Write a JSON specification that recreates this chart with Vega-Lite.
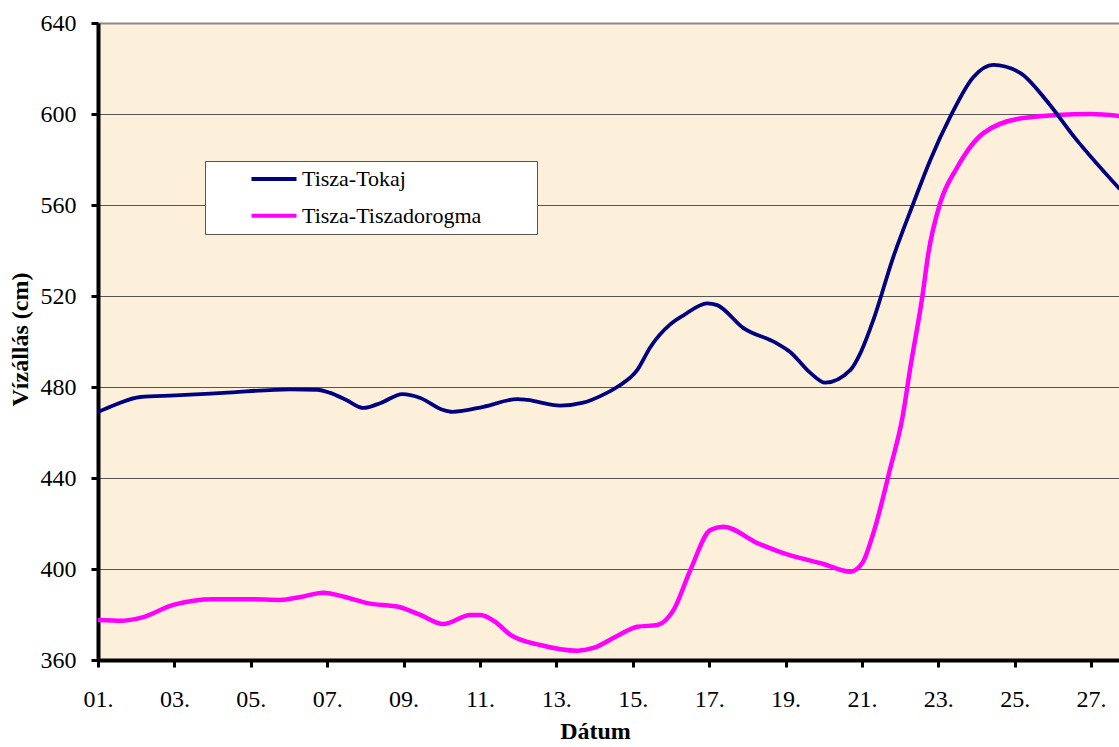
{
  "$schema": "https://vega.github.io/schema/vega-lite/v6.json",
  "width": 1021,
  "height": 637,
  "autosize": {"type": "none"},
  "padding": {"left": 98, "top": 23, "right": 0, "bottom": 87},
  "background": "white",
  "config": {
    "view": {"stroke": null, "fill": "#fcf0da"},
    "font": "Liberation Serif"
  },
  "data": {
    "values": [
      {"nap": 1.0, "allomas": "Tisza-Tokaj", "vizallas": 469},
      {"nap": 1.45, "allomas": "Tisza-Tokaj", "vizallas": 472.2},
      {"nap": 2.11, "allomas": "Tisza-Tokaj", "vizallas": 475.6},
      {"nap": 3.02, "allomas": "Tisza-Tokaj", "vizallas": 476.3},
      {"nap": 4.28, "allomas": "Tisza-Tokaj", "vizallas": 477.4},
      {"nap": 6.03, "allomas": "Tisza-Tokaj", "vizallas": 479},
      {"nap": 6.74, "allomas": "Tisza-Tokaj", "vizallas": 478.8},
      {"nap": 7.08, "allomas": "Tisza-Tokaj", "vizallas": 477.4},
      {"nap": 7.5, "allomas": "Tisza-Tokaj", "vizallas": 474.3},
      {"nap": 7.95, "allomas": "Tisza-Tokaj", "vizallas": 470.8},
      {"nap": 8.4, "allomas": "Tisza-Tokaj", "vizallas": 473},
      {"nap": 8.97, "allomas": "Tisza-Tokaj", "vizallas": 476.9},
      {"nap": 9.44, "allomas": "Tisza-Tokaj", "vizallas": 475.2},
      {"nap": 10.04, "allomas": "Tisza-Tokaj", "vizallas": 469.9},
      {"nap": 10.28, "allomas": "Tisza-Tokaj", "vizallas": 469.1},
      {"nap": 11.09, "allomas": "Tisza-Tokaj", "vizallas": 471.3},
      {"nap": 11.98, "allomas": "Tisza-Tokaj", "vizallas": 474.7},
      {"nap": 12.24, "allomas": "Tisza-Tokaj", "vizallas": 474.3},
      {"nap": 13.1, "allomas": "Tisza-Tokaj", "vizallas": 471.8},
      {"nap": 13.7, "allomas": "Tisza-Tokaj", "vizallas": 473.1},
      {"nap": 14.15, "allomas": "Tisza-Tokaj", "vizallas": 476},
      {"nap": 14.6, "allomas": "Tisza-Tokaj", "vizallas": 480.1},
      {"nap": 15.12, "allomas": "Tisza-Tokaj", "vizallas": 487.5},
      {"nap": 15.46, "allomas": "Tisza-Tokaj", "vizallas": 497.5},
      {"nap": 15.98, "allomas": "Tisza-Tokaj", "vizallas": 507.5},
      {"nap": 16.33, "allomas": "Tisza-Tokaj", "vizallas": 511.5},
      {"nap": 16.95, "allomas": "Tisza-Tokaj", "vizallas": 516.8},
      {"nap": 17.21, "allomas": "Tisza-Tokaj", "vizallas": 516},
      {"nap": 17.9, "allomas": "Tisza-Tokaj", "vizallas": 505.9},
      {"nap": 18.76, "allomas": "Tisza-Tokaj", "vizallas": 499.3},
      {"nap": 19.12, "allomas": "Tisza-Tokaj", "vizallas": 495.4},
      {"nap": 19.65, "allomas": "Tisza-Tokaj", "vizallas": 486.2},
      {"nap": 20.04, "allomas": "Tisza-Tokaj", "vizallas": 481.9},
      {"nap": 20.7, "allomas": "Tisza-Tokaj", "vizallas": 487.5},
      {"nap": 20.96, "allomas": "Tisza-Tokaj", "vizallas": 494.9},
      {"nap": 21.3, "allomas": "Tisza-Tokaj", "vizallas": 509.5},
      {"nap": 21.82, "allomas": "Tisza-Tokaj", "vizallas": 537.1},
      {"nap": 22.35, "allomas": "Tisza-Tokaj", "vizallas": 560.9},
      {"nap": 22.79, "allomas": "Tisza-Tokaj", "vizallas": 579.8},
      {"nap": 23.31, "allomas": "Tisza-Tokaj", "vizallas": 598.7},
      {"nap": 23.92, "allomas": "Tisza-Tokaj", "vizallas": 616.3},
      {"nap": 24.44, "allomas": "Tisza-Tokaj", "vizallas": 621.6},
      {"nap": 25.15, "allomas": "Tisza-Tokaj", "vizallas": 618},
      {"nap": 25.85, "allomas": "Tisza-Tokaj", "vizallas": 605.5},
      {"nap": 26.53, "allomas": "Tisza-Tokaj", "vizallas": 590.5},
      {"nap": 27.75, "allomas": "Tisza-Tokaj", "vizallas": 567},
      {"nap": 1.0, "allomas": "Tisza-Tiszadorogma", "vizallas": 377.6},
      {"nap": 1.66, "allomas": "Tisza-Tiszadorogma", "vizallas": 377.3},
      {"nap": 2.11, "allomas": "Tisza-Tiszadorogma", "vizallas": 378.5},
      {"nap": 2.97, "allomas": "Tisza-Tiszadorogma", "vizallas": 384.2},
      {"nap": 4.02, "allomas": "Tisza-Tiszadorogma", "vizallas": 386.7},
      {"nap": 4.99, "allomas": "Tisza-Tiszadorogma", "vizallas": 386.7},
      {"nap": 5.77, "allomas": "Tisza-Tiszadorogma", "vizallas": 386.4},
      {"nap": 6.3, "allomas": "Tisza-Tiszadorogma", "vizallas": 387.7},
      {"nap": 6.9, "allomas": "Tisza-Tiszadorogma", "vizallas": 389.6},
      {"nap": 7.47, "allomas": "Tisza-Tiszadorogma", "vizallas": 387.7},
      {"nap": 8.05, "allomas": "Tisza-Tiszadorogma", "vizallas": 385},
      {"nap": 8.91, "allomas": "Tisza-Tiszadorogma", "vizallas": 383.2},
      {"nap": 9.44, "allomas": "Tisza-Tiszadorogma", "vizallas": 379.8},
      {"nap": 10.04, "allomas": "Tisza-Tiszadorogma", "vizallas": 375.8},
      {"nap": 10.75, "allomas": "Tisza-Tiszadorogma", "vizallas": 379.8},
      {"nap": 11.01, "allomas": "Tisza-Tiszadorogma", "vizallas": 379.8},
      {"nap": 11.4, "allomas": "Tisza-Tiszadorogma", "vizallas": 376.8},
      {"nap": 11.8, "allomas": "Tisza-Tiszadorogma", "vizallas": 371},
      {"nap": 12.58, "allomas": "Tisza-Tiszadorogma", "vizallas": 366.6},
      {"nap": 13.55, "allomas": "Tisza-Tiszadorogma", "vizallas": 364.1},
      {"nap": 13.97, "allomas": "Tisza-Tiszadorogma", "vizallas": 365.3},
      {"nap": 14.55, "allomas": "Tisza-Tiszadorogma", "vizallas": 370.2},
      {"nap": 15.12, "allomas": "Tisza-Tiszadorogma", "vizallas": 374.6},
      {"nap": 15.65, "allomas": "Tisza-Tiszadorogma", "vizallas": 375.4},
      {"nap": 16.07, "allomas": "Tisza-Tiszadorogma", "vizallas": 382},
      {"nap": 16.51, "allomas": "Tisza-Tiszadorogma", "vizallas": 399.6},
      {"nap": 17.03, "allomas": "Tisza-Tiszadorogma", "vizallas": 417.1},
      {"nap": 17.37, "allomas": "Tisza-Tiszadorogma", "vizallas": 418.6},
      {"nap": 18.26, "allomas": "Tisza-Tiszadorogma", "vizallas": 411.4},
      {"nap": 18.94, "allomas": "Tisza-Tiszadorogma", "vizallas": 407},
      {"nap": 19.99, "allomas": "Tisza-Tiszadorogma", "vizallas": 402.2},
      {"nap": 20.7, "allomas": "Tisza-Tiszadorogma", "vizallas": 398.8},
      {"nap": 21.01, "allomas": "Tisza-Tiszadorogma", "vizallas": 402.6},
      {"nap": 21.3, "allomas": "Tisza-Tiszadorogma", "vizallas": 415.8},
      {"nap": 21.75, "allomas": "Tisza-Tiszadorogma", "vizallas": 444.8},
      {"nap": 22.06, "allomas": "Tisza-Tiszadorogma", "vizallas": 466.5},
      {"nap": 22.27, "allomas": "Tisza-Tiszadorogma", "vizallas": 488.8},
      {"nap": 22.58, "allomas": "Tisza-Tiszadorogma", "vizallas": 519.6},
      {"nap": 22.74, "allomas": "Tisza-Tiszadorogma", "vizallas": 538.9},
      {"nap": 23.05, "allomas": "Tisza-Tiszadorogma", "vizallas": 560.9},
      {"nap": 23.5, "allomas": "Tisza-Tiszadorogma", "vizallas": 576.7},
      {"nap": 24.18, "allomas": "Tisza-Tiszadorogma", "vizallas": 591.6},
      {"nap": 25.22, "allomas": "Tisza-Tiszadorogma", "vizallas": 598.2},
      {"nap": 26.98, "allomas": "Tisza-Tiszadorogma", "vizallas": 600},
      {"nap": 27.75, "allomas": "Tisza-Tiszadorogma", "vizallas": 599.1}
    ]
  },
  "encoding": {
    "x": {
      "field": "nap",
      "type": "quantitative",
      "scale": {"domain": [1, 27.73], "nice": false, "zero": false},
      "axis": {
        "values": [1, 3, 5, 7, 9, 11, 13, 15, 17, 19, 21, 23, 25, 27],
        "labelExpr": "(datum.value < 10 ? '0' : '') + datum.value + '.'",
        "labelFlush": false,
        "title": "Dátum",
        "grid": false,
        "domainColor": "black",
        "domainWidth": 4,
        "tickColor": "black",
        "tickWidth": 3,
        "tickSize": 7,
        "labelFontSize": 24,
        "labelColor": "black",
        "labelPadding": 20,
        "labelFont": "Liberation Serif",
        "titleFont": "Liberation Serif",
        "titleFontSize": 24,
        "titleFontWeight": "bold",
        "titleColor": "black",
        "titleX": 497,
        "titleY": 78,
        "titleBaseline": "alphabetic",
        "titleAlign": "center",
        "zindex": 1
      }
    },
    "y": {
      "field": "vizallas",
      "type": "quantitative",
      "scale": {"domain": [360, 640], "nice": false, "zero": false},
      "axis": {
        "values": [360, 400, 440, 480, 520, 560, 600, 640],
        "title": "Vízállás (cm)",
        "grid": true,
        "gridColor": {"condition": {"test": "datum.value === 640", "value": "#8a8a8a"}, "value": "#555555"},
        "gridWidth": {"condition": {"test": "datum.value === 640", "value": 2}, "value": 1},
        "domainColor": "black",
        "domainWidth": 4,
        "tickColor": "black",
        "tickWidth": 3,
        "tickSize": 7,
        "labelFontSize": 24,
        "labelColor": "black",
        "labelPadding": 15,
        "labelFont": "Liberation Serif",
        "titleFont": "Liberation Serif",
        "titleFontSize": 24,
        "titleFontWeight": "bold",
        "titleColor": "black",
        "titleAngle": -90,
        "titleX": -71,
        "titleY": 316,
        "titleBaseline": "alphabetic",
        "titleAlign": "center"
      }
    },
    "color": {
      "field": "allomas",
      "type": "nominal",
      "scale": {"domain": ["Tisza-Tokaj", "Tisza-Tiszadorogma"], "range": ["#000080", "#ff00ff"]},
      "legend": {
        "title": null,
        "orient": "none",
        "legendX": 107,
        "legendY": 138,
        "fillColor": "white",
        "strokeColor": "#555555",
        "padding": 7,
        "rowPadding": 14.7,
        "symbolType": "M-3,0H3",
        "symbolSize": 225,
        "symbolStrokeWidth": 4,
        "symbolOffset": 51,
        "labelOffset": 17,
        "labelFont": "Liberation Serif",
        "labelFontSize": 22,
        "labelColor": "black",
        "labelLimit": 500,
        "labelExpr": "datum.label + '\u2800\u2800\u2800'"
      }
    }
  },
  "layer": [
    {
      "transform": [{"filter": "datum.allomas === 'Tisza-Tiszadorogma'"}],
      "mark": {"type": "line", "interpolate": "monotone", "strokeWidth": 4.5, "clip": true}
    },
    {
      "transform": [{"filter": "datum.allomas === 'Tisza-Tokaj'"}],
      "mark": {"type": "line", "interpolate": "monotone", "strokeWidth": 3.8, "clip": true}
    }
  ]
}
